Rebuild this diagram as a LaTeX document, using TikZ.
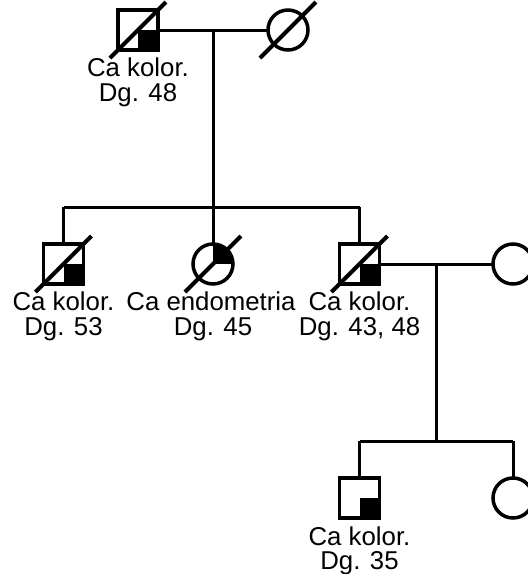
\documentclass[tikz,border=0pt]{standalone}
\usepackage{fontspec}
\setmainfont{Liberation Sans}
\usetikzlibrary{calc}
\begin{document}
\begin{tikzpicture}[x=1pt,y=-1pt,
  sym/.style={draw,line width=3.5pt,minimum size=40pt,inner sep=0pt,outer sep=0pt},
  male/.style={sym,rectangle},
  female/.style={sym,circle},
  qbr/.style={path picture={\fill[black] (path picture bounding box.center) rectangle (path picture bounding box.south east);}},
  qtr/.style={path picture={\fill[black] (path picture bounding box.center) rectangle (path picture bounding box.north east);}},
  link/.style={line width=3pt},
  slash/.style={line width=4pt},
  lbl/.style={font=\fontsize{25.8}{25}\selectfont,anchor=base,inner sep=0pt}]
\useasboundingbox (0,0) rectangle (528,574);
% generation 1
\node[male,qbr] (gf) at (138,30) {};
\node[female] (gm) at (288,30) {};
\draw[slash] ($(gf)+(-28,28)$) -- ($(gf)+(28,-28)$);
\draw[slash] ($(gm)+(-28,28)$) -- ($(gm)+(28,-28)$);
\node[lbl] (gfa) at (138,76) {Ca kolor.};
\node[lbl] (gfb) at (138,101) {Dg. 48};
% generation 2
\node[male,qbr] (c1) at (63.5,264) {};
\node[female,qtr] (c2) at (213,264) {};
\node[male,qbr] (c3) at (359.5,264) {};
\node[female] (sp) at (513,264) {};
\draw[slash] ($(c1)+(-28,28)$) -- ($(c1)+(28,-28)$);
\draw[slash] ($(c2)+(-28,28)$) -- ($(c2)+(28,-28)$);
\draw[slash] ($(c3)+(-28,28)$) -- ($(c3)+(28,-28)$);
\node[lbl] (c1a) at (63.5,310) {Ca kolor.};
\node[lbl] (c1b) at (63.5,335) {Dg. 53};
\node[lbl] (c2a) at (211,310) {Ca endometria};
\node[lbl] (c2b) at (213,335) {Dg. 45};
\node[lbl] (c3a) at (359.5,310) {Ca kolor.};
\node[lbl] (c3b) at (359.5,335) {Dg. 43, 48};
% generation 3
\node[male,qbr] (g1) at (359.5,498) {};
\node[female] (g2) at (513,498) {};
\node[lbl] (g1a) at (359.5,545) {Ca kolor.};
\node[lbl] (g1b) at (359.5,569) {Dg. 35};
% connectors
\coordinate (m1) at (213,30);
\coordinate (s1) at (213,207);
\coordinate (s1l) at (63.5,207);
\coordinate (s1r) at (359.5,207);
\draw[link] (gf.east) -- (gm.west);
\draw[link] (m1) -- (c2.north);
\draw[link] (s1l) -- (s1r);
\draw[link] (c1.north) -- (s1l);
\draw[link] (c3.north) -- (s1r);
\coordinate (m2) at (436,264);
\coordinate (s2) at (436,441);
\coordinate (s2l) at (359.5,441);
\coordinate (s2r) at (513,441);
\draw[link] (c3.east) -- (sp.west);
\draw[link] (m2) -- (s2);
\draw[link] (s2l) -- (s2r);
\draw[link] (s2l) -- (g1.north);
\draw[link] (s2r) -- (g2.north);
\end{tikzpicture}
\end{document}
